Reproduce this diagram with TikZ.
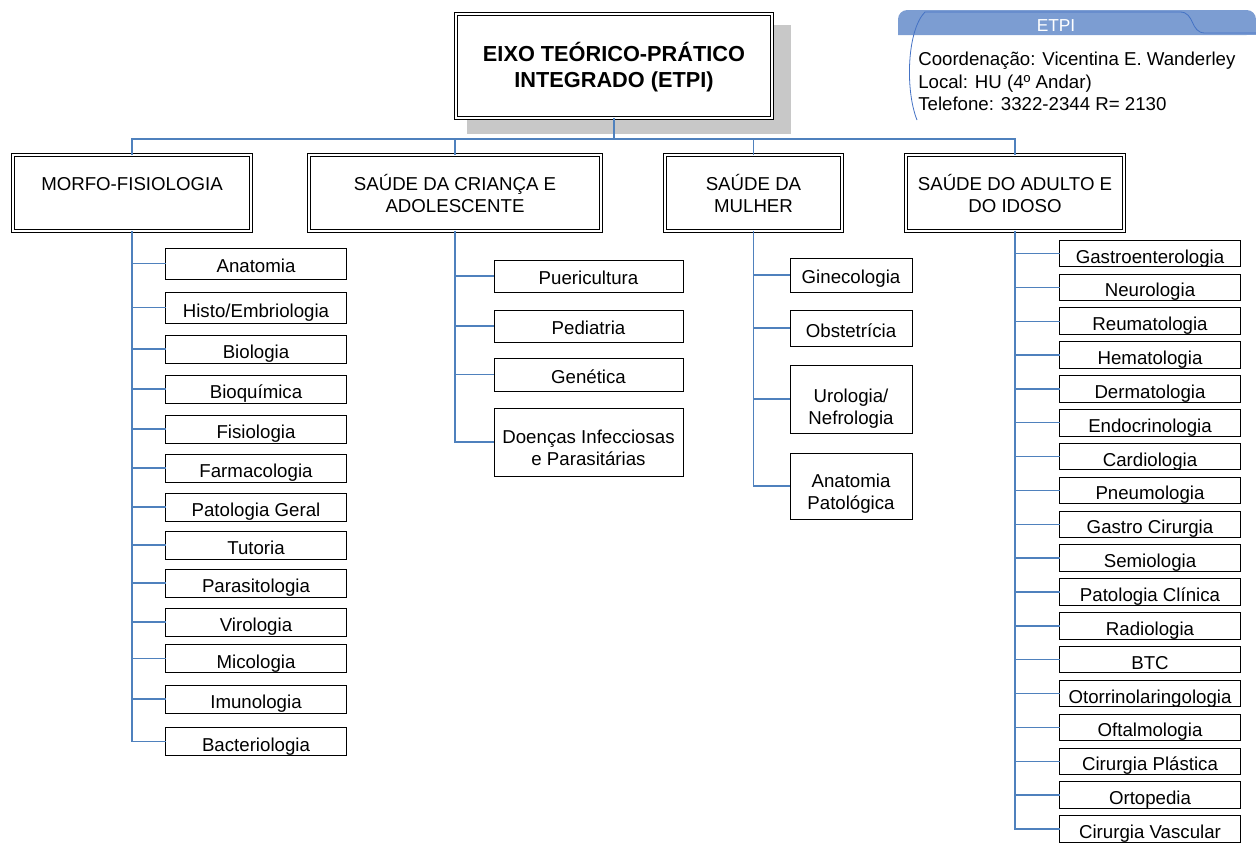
\documentclass[tikz,border=0pt]{standalone}
\usepackage{fontspec}
\setmainfont{Liberation Sans}
\usetikzlibrary{calc}
\newcommand\mlines[1]{\begin{tabular}[t]{@{}c@{}}#1\end{tabular}}
\definecolor{connc}{RGB}{79,129,189}
\definecolor{bandc}{RGB}{124,157,210}
\definecolor{tabc}{RGB}{68,114,196}
\definecolor{shadowc}{RGB}{200,200,200}
\tikzset{
 conn/.style={draw=connc, line width=1pt},
 lbox/.style={draw=black, line width=0.75pt, rectangle, inner sep=0pt, outer sep=0pt, fill=white},
 dbox/.style={draw=black, double=white, double distance=1.5pt, line width=0.55pt, rectangle, inner sep=0pt, outer sep=0pt, fill=white},
 lt/.style={font=\fontsize{14}{16.5}\selectfont, inner sep=0pt, anchor=base},
 legt/.style={font=\fontsize{14}{17}\selectfont, inner sep=0pt, anchor=base west},
}
\begin{document}
\begin{tikzpicture}[x=0.75pt,y=-0.75pt]
\useasboundingbox (0,0) rectangle (1256,843);

% ---------- legend ----------
\fill[bandc, rounded corners=7pt] (898,35) -- (898,10) -- (1256,10) -- (1256,35) [sharp corners] -- cycle;
\fill[bandc] (898,22) rectangle (1256,35);
\draw[tabc, line width=0.6pt] (917,120) .. controls (905,90) and (907,30) .. (925,12) -- (1180,12) .. controls (1195,12) and (1190,33) .. (1205,33) -- (1256,33);
\node[font=\fontsize{13}{15}\selectfont, text=white, inner sep=0pt, anchor=base] (legh) at (1056,31) {ETPI};
\node[legt] (leg1) at (918,65) {Coordenação: Vicentina E. Wanderley};
\node[legt] (leg2) at (918,88) {Local: HU (4º Andar)};
\node[legt] (leg3) at (918,110) {Telefone: 3322-2344 R= 2130};

% ---------- title ----------
\fill[shadowc] (467,25) rectangle (791,134);
\node[dbox, minimum width=316*0.75pt, minimum height=104*0.75pt] (title) at (614,66) {};
\node[font=\fontsize{16.3}{19.5}\selectfont\bfseries, inner sep=0pt, anchor=base] (title-t) at (614,61) {\mlines{EIXO TEÓRICO-PRÁTICO\\INTEGRADO (ETPI)}};

% ---------- level 1 ----------
\node[dbox, minimum width=238*0.75pt, minimum height=76*0.75pt] (morfo) at (132,193) {};
\node[lt] (morfo-t) at (132,190) {MORFO-FISIOLOGIA};
\node[dbox, minimum width=292*0.75pt, minimum height=76*0.75pt] (crianca) at (455,193) {};
\node[lt] (crianca-t) at (455,190) {\mlines{SAÚDE DA CRIANÇA E\\ADOLESCENTE}};
\node[dbox, minimum width=177*0.75pt, minimum height=76*0.75pt] (mulher) at (753.5,193) {};
\node[lt] (mulher-t) at (753.5,190) {\mlines{SAÚDE DA\\MULHER}};
\node[dbox, minimum width=218*0.75pt, minimum height=76*0.75pt] (adult) at (1015,193) {};
\node[lt] (adult-t) at (1015,190) {\mlines{SAÚDE DO ADULTO E\\DO IDOSO}};

\coordinate (bus) at (614,139);
\draw[conn] (title.south) -- (title.south |- bus);
\draw[conn] (morfo.north) |- (bus) -| (adult.north);
\draw[conn] (crianca.north) -- (crianca.north |- bus);
\draw[conn] (mulher.north) -- (mulher.north |- bus);

% ---------- morfo-fisiologia ----------
\foreach \t/\y/\h/\d [count=\i] in {Anatomia/263.5/31/8.5, Histo\slash Embriologia/307.5/31/9.5, Biologia/349/28/9.5, Bioquímica/389/28/9.5, Fisiologia/429/28/9.5, Farmacologia/468/28/9.5, Patologia Geral/507/28/9.5, Tutoria/545/28/9.5, Parasitologia/583/28/9.5, Virologia/622/28/9.5, Micologia/658.5/28/9.5, Imunologia/699/28/9.5, Bacteriologia/741.5/28/9.5}{
  \node[lbox, minimum width=181*0.75pt, minimum height=\h*0.75pt] (m\i) at (256,\y) {};
  \node[lt] (m\i-t) at (256,\y+\d) {\t};
  \draw[conn] (morfo.south) |- (m\i.west);
}

% ---------- crianca ----------
\node[lbox, minimum width=189*0.75pt, minimum height=32*0.75pt] (c1) at (588.5,276) {};
\node[lt] (c1-t) at (588.5,284.5) {Puericultura};
\node[lbox, minimum width=189*0.75pt, minimum height=32*0.75pt] (c2) at (588.5,326) {};
\node[lt] (c2-t) at (588.5,334.5) {Pediatria};
\node[lbox, minimum width=189*0.75pt, minimum height=33*0.75pt] (c3) at (588.5,374.5) {};
\node[lt] (c3-t) at (588.5,383) {Genética};
\node[lbox, minimum width=189*0.75pt, minimum height=68*0.75pt] (c4) at (588.5,442) {};
\node[lt] (c4-t) at (588.5,443) {\mlines{Doenças Infecciosas\\e Parasitárias}};
\foreach \i in {1,...,4}{\draw[conn] (crianca.south) |- (c\i.west);}

% ---------- mulher ----------
\node[lbox, minimum width=122*0.75pt, minimum height=34*0.75pt] (w1) at (851,275) {};
\node[lt] (w1-t) at (851,283.5) {Ginecologia};
\node[lbox, minimum width=122*0.75pt, minimum height=36*0.75pt] (w2) at (851,328) {};
\node[lt] (w2-t) at (851,337) {Obstetrícia};
\node[lbox, minimum width=122*0.75pt, minimum height=68*0.75pt] (w3) at (851,399) {};
\node[lt] (w3-t) at (851,402) {\mlines{Urologia/\\Nefrologia}};
\node[lbox, minimum width=122*0.75pt, minimum height=66*0.75pt] (w4) at (851,486) {};
\node[lt] (w4-t) at (851,487) {\mlines{Anatomia\\Patológica}};
\foreach \i in {1,...,4}{\draw[conn] (mulher.south) |- (w\i.west);}

% ---------- adulto ----------
\foreach \t [count=\i from 0] in {Gastroenterologia, Neurologia, Reumatologia, Hematologia, Dermatologia, Endocrinologia, Cardiologia, Pneumologia, Gastro Cirurgia, Semiologia, Patologia Clínica, Radiologia, BTC, Otorrinolaringologia, Oftalmologia, Cirurgia Plástica, Ortopedia, Cirurgia Vascular}{
  \pgfmathsetmacro\yy{253.5+33.85*\i}
  \node[lbox, minimum width=181*0.75pt, minimum height=26.5*0.75pt] (a\i) at (1150,\yy) {};
  \node[lt] (a\i-t) at (1150,\yy+9.5) {\t};
  \draw[conn] (adult.south) |- (a\i.west);
}
\end{tikzpicture}
\end{document}
